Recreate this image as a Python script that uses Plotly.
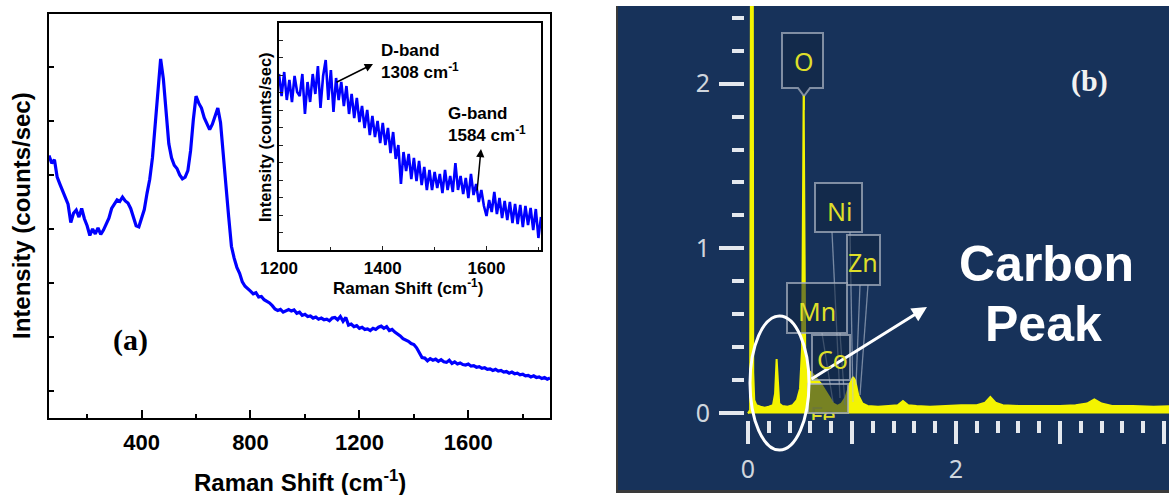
import plotly.graph_objects as go

W, H = 1169, 495

# ---------------- data ----------------
RAMAN_SHIFT = [
    60, 70, 80, 90, 100, 110, 120, 130, 140, 150,
    160, 170, 180, 190, 200, 210, 220, 230, 240, 250,
    260, 270, 280, 290, 300, 310, 320, 330, 340, 350,
    360, 370, 380, 390, 400, 410, 420, 430, 440, 450,
    460, 470, 480, 490, 500, 510, 520, 530, 540, 550,
    560, 570, 580, 590, 600, 610, 620, 630, 640, 650,
    660, 670, 680, 690, 700, 710, 720, 730, 740, 750,
    760, 770, 780, 790, 800, 810, 820, 830, 840, 850,
    860, 870, 880, 890, 900, 910, 920, 930, 940, 950,
    960, 970, 980, 990, 1000, 1010, 1020, 1030, 1040, 1050,
    1060, 1070, 1080, 1090, 1100, 1110, 1120, 1130, 1140, 1150,
    1160, 1170, 1180, 1190, 1200, 1210, 1220, 1230, 1240, 1250,
    1260, 1270, 1280, 1290, 1300, 1310, 1320, 1330, 1340, 1350,
    1360, 1370, 1380, 1390, 1400, 1410, 1420, 1430, 1440, 1450,
    1460, 1470, 1480, 1490, 1500, 1510, 1520, 1530, 1540, 1550,
    1560, 1570, 1580, 1590, 1600, 1610, 1620, 1630, 1640, 1650,
    1660, 1670, 1680, 1690, 1700, 1710, 1720, 1730, 1740, 1750,
    1760, 1770, 1780, 1790, 1800, 1810, 1820, 1830, 1840, 1850,
    1860, 1870, 1880, 1890, 1900,
]
RAMAN_INTENSITY = [
    4860, 4720, 4780, 4460, 4330, 4200, 4080, 3960, 3620, 3790,
    3850, 3720, 3880, 3690, 3560, 3380, 3500, 3410, 3520, 3400,
    3480, 3580, 3700, 3880, 3950, 4040, 4010, 4090, 4020, 3980,
    3880, 3700, 3560, 3540, 3680, 3860, 4160, 4420, 4820, 5380,
    6100, 6650, 6280, 5620, 5080, 4820, 4680, 4620, 4500, 4430,
    4460, 4580, 4950, 5520, 5960, 5830, 5740, 5560, 5430, 5340,
    5440, 5570, 5740, 5470, 4960, 4300, 3720, 3180, 2960, 2790,
    2680, 2520, 2440, 2400, 2350, 2300, 2320, 2240, 2250, 2190,
    2160, 2130, 2080, 2020, 1990, 2010, 1960, 1990, 2010, 1980,
    2000, 1940, 1960, 1900, 1920, 1880, 1890, 1850, 1870, 1830,
    1850, 1820, 1830, 1800, 1850, 1860, 1820, 1880, 1790, 1860,
    1720, 1740, 1690, 1710, 1660, 1680, 1640, 1650, 1620, 1660,
    1640, 1680, 1700, 1660, 1690, 1620, 1640, 1590, 1560, 1520,
    1470, 1450, 1420, 1380, 1360, 1300, 1200, 1120, 1110, 1060,
    1100, 1070, 1090, 1050, 1080, 1040, 1030, 1070, 1010, 1040,
    1000, 1020, 990, 980, 1000, 960, 970, 940, 950, 920,
    930, 900, 910, 880, 900, 870, 880, 850, 860, 830,
    850, 820, 830, 800, 810, 780, 790, 760, 780, 750,
    760, 730, 750, 720, 740,
]

INSET_SHIFT = [
    1200, 1205, 1210, 1215, 1220, 1225, 1230, 1235, 1240, 1245,
    1250, 1255, 1260, 1265, 1270, 1275, 1280, 1285, 1290, 1295,
    1300, 1305, 1310, 1315, 1320, 1325, 1330, 1335, 1340, 1345,
    1350, 1355, 1360, 1365, 1370, 1375, 1380, 1385, 1390, 1395,
    1400, 1405, 1410, 1415, 1420, 1425, 1430, 1435, 1440, 1445,
    1450, 1455, 1460, 1465, 1470, 1475, 1480, 1485, 1490, 1495,
    1500, 1505, 1510, 1515, 1520, 1525, 1530, 1535, 1540, 1545,
    1550, 1555, 1560, 1565, 1570, 1575, 1580, 1585, 1590, 1595,
    1600, 1605, 1610, 1615, 1620, 1625, 1630, 1635, 1640, 1645,
    1650, 1655, 1660, 1665, 1670, 1675, 1680, 1685, 1690, 1695,
    1700, 1705,
]
INSET_INTENSITY = [
    1760, 1540, 1780, 1500, 1700, 1480, 1740, 1580, 1540, 1760,
    1360, 1680, 1480, 1760, 1560, 1840, 1420, 1740, 1900, 1500,
    1800, 1380, 1720, 1500, 1680, 1440, 1640, 1360, 1560, 1320,
    1520, 1280, 1440, 1220, 1400, 1150, 1340, 1130, 1290, 1070,
    1270, 1050, 1220, 970, 1180, 910, 1050, 660, 980, 790,
    960, 710, 920, 690, 890, 650, 830, 600, 800, 600,
    780, 620, 760, 570, 800, 600, 740, 580, 870, 600,
    740, 560, 720, 520, 760, 550, 660, 480, 600, 440,
    340, 500, 380, 580, 360, 520, 320, 490, 300, 480,
    270, 460, 260, 450, 230, 440, 250, 420, 200, 410,
    120, 330,
]

EDS_ENERGY = [0.0, 0.02, 0.028, 0.032, 0.046, 0.05, 0.06, 0.08, 0.12, 0.16,
              0.2, 0.24, 0.26, 0.275, 0.285, 0.3, 0.33, 0.38, 0.43, 0.47,
              0.5, 0.52, 0.535, 0.55, 0.58, 0.62, 0.66, 0.7, 0.74, 0.78,
              0.82, 0.86, 0.9, 0.94, 0.98, 1.01, 1.03, 1.06, 1.1, 1.15,
              1.25, 1.35, 1.44, 1.49, 1.54, 1.62, 1.75, 1.9, 2.05, 2.2,
              2.28, 2.33, 2.38, 2.45, 2.6, 2.8, 3.0, 3.15, 3.26, 3.33,
              3.4, 3.5, 3.7, 3.9, 4.1]
EDS_COUNTS = [0.0, 0.02, 2.6, 2.6, 2.6, 0.25, 0.08, 0.05, 0.04, 0.035,
              0.04, 0.05, 0.12, 0.33, 0.2, 0.06, 0.045, 0.04, 0.05, 0.08,
              0.15, 0.4, 1.93, 0.35, 0.26, 0.24, 0.21, 0.18, 0.14, 0.1,
              0.06, 0.045, 0.06, 0.1, 0.18, 0.22, 0.2, 0.11, 0.06, 0.045,
              0.04, 0.045, 0.05, 0.075, 0.05, 0.045, 0.04, 0.045, 0.05, 0.05,
              0.065, 0.1, 0.065, 0.05, 0.045, 0.045, 0.045, 0.05, 0.06, 0.085,
              0.06, 0.045, 0.045, 0.04, 0.045]

RAMAN_X_TICKS = [400, 800, 1200, 1600]
INSET_X_TICKS = [1200, 1400, 1600]
EDS_X_TICKS = [0, 1, 2, 3, 4]
EDS_X_TICKTEXT = ["0", " ", "2", " ", "4"]
EDS_Y_TICKS = [0, 1, 2]
EDS_Y_TICKTEXT = ["0", "1", "2"]


# ---------------- helpers (pixel -> paper) ----------------
def px(x):
    return x / W


def py(y):
    return 1 - y / H


SANS = "Arial, Liberation Sans, sans-serif"
SERIF = "Times New Roman, Liberation Serif, serif"
EDSFONT = "Noto Sans, Open Sans, sans-serif"
NAVY = "#17325a"
TICKW = "#e4e8ee"
YEL = "#f4f400"
LBLYEL = "#dede2a"

fig = go.Figure()

fig.add_trace(go.Scatter(x=RAMAN_SHIFT, y=RAMAN_INTENSITY, mode="lines",
                         line=dict(color="#0000ff", width=3.2),
                         xaxis="x", yaxis="y", hoverinfo="skip"))
fig.add_trace(go.Scatter(x=INSET_SHIFT, y=INSET_INTENSITY, mode="lines",
                         line=dict(color="#0000ff", width=2.6),
                         xaxis="x2", yaxis="y2", hoverinfo="skip"))
fig.add_trace(go.Scatter(x=EDS_ENERGY, y=EDS_COUNTS, mode="lines",
                         line=dict(color=YEL, width=2), fill="tozeroy",
                         fillcolor=YEL, xaxis="x3", yaxis="y3",
                         hoverinfo="skip", cliponaxis=True))
# partially hidden "Fe" label, clipped at the bottom of the EDS plot area
fig.add_trace(go.Scatter(x=[0.72], y=[-0.025], mode="text", text=["Fe"],
                         textfont=dict(family=EDSFONT, size=24, color=LBLYEL),
                         xaxis="x3", yaxis="y3", cliponaxis=True,
                         hoverinfo="skip"))

common_frame = dict(showgrid=False, zeroline=False, showline=True,
                    linecolor="black", mirror=True, automargin=False)

fig.update_layout(
    width=W, height=H, autosize=False,
    margin=dict(l=0, r=0, t=0, b=0, pad=0, autoexpand=False),
    paper_bgcolor="white", plot_bgcolor="rgba(0,0,0,0)",
    showlegend=False,
    xaxis=dict(domain=[px(49), px(550)], anchor="y", range=[60, 1900],
               tickmode="array", tickvals=RAMAN_X_TICKS,
               ticks="inside", ticklen=8, tickwidth=1.5, tickcolor="black",
               minor=dict(tickmode="linear", tick0=0, dtick=200, ticks="inside",
                          ticklen=4, tickwidth=1.5, tickcolor="black"),
               tickfont=dict(family=SANS, size=22, color="black", weight="bold"),
               ticklabelstandoff=4, linewidth=2, **common_frame),
    yaxis=dict(domain=[py(418), py(14)], anchor="x", range=[0, 7481],
               tick0=500, dtick=1000, ticks="inside", ticklen=5, tickwidth=1.5,
               tickcolor="black", showticklabels=False, linewidth=2,
               **common_frame),
    xaxis2=dict(domain=[px(279), px(541)], anchor="y2", range=[1200, 1705],
                tickmode="array", tickvals=INSET_X_TICKS,
                ticks="inside", ticklen=4, tickwidth=1.2, tickcolor="#222",
                minor=dict(tickmode="linear", tick0=1100, dtick=100,
                           ticks="inside", ticklen=3, tickwidth=1.2,
                           tickcolor="#222"),
                tickfont=dict(family=SANS, size=17, color="black", weight="bold"),
                ticklabelstandoff=2, linewidth=1.5, **common_frame),
    yaxis2=dict(domain=[py(250), py(23)], anchor="x2", range=[0, 2270],
                tick0=175, dtick=175, ticks="inside", ticklen=4, tickwidth=1.2,
                tickcolor="#222", showticklabels=False, linewidth=1.5,
                **common_frame),
    xaxis3=dict(domain=[px(745), 1.0], anchor="y3", range=[-0.029, 4.048],
                showgrid=False, zeroline=False, showline=False, automargin=False,
                tickmode="array", tickvals=EDS_X_TICKS, ticktext=EDS_X_TICKTEXT,
                ticks="outside", ticklen=23, tickwidth=4, tickcolor=TICKW,
                minor=dict(tickmode="linear", tick0=0, dtick=0.2,
                           ticks="outside", ticklen=12, tickwidth=4,
                           tickcolor=TICKW),
                tickfont=dict(family=EDSFONT, size=25, color="#cfd6de"),
                ticklabelstandoff=4),
    yaxis3=dict(domain=[py(420), py(6)], anchor="x3", range=[-0.04, 2.47],
                showgrid=False, zeroline=False, showline=False, automargin=False,
                tickmode="array", tickvals=EDS_Y_TICKS, ticktext=EDS_Y_TICKTEXT,
                ticks="outside", ticklen=25, tickwidth=4, tickcolor=TICKW,
                minor=dict(tickmode="linear", tick0=0, dtick=0.2,
                           ticks="outside", ticklen=12, tickwidth=4,
                           tickcolor=TICKW),
                tickfont=dict(family=EDSFONT, size=25, color="#cfd6de"),
                ticklabelstandoff=4),
)

shapes = []
# EDS panel background and border
shapes.append(dict(type="rect", xref="paper", yref="paper",
                   x0=px(617), x1=1.0, y0=py(491), y1=py(6),
                   fillcolor=NAVY, line=dict(width=0), layer="below"))
shapes.append(dict(type="line", xref="paper", yref="paper",
                   x0=px(617), x1=px(617), y0=py(493), y1=py(6),
                   line=dict(color="#3a3a3a", width=2), layer="above"))
shapes.append(dict(type="line", xref="paper", yref="paper",
                   x0=px(616), x1=1.0, y0=py(491.5), y1=py(491.5),
                   line=dict(color="#3a3a3a", width=3), layer="above"))

# thin leader lines from element boxes
lead = dict(color="rgba(185,195,210,0.6)", width=1.3)
for (x0, y0, x1, y1) in [(832, 232, 840, 398), (850, 232, 853, 402),
                         (860, 285, 856, 385), (868, 285, 860, 395),
                         (822, 333, 833, 402), (840, 333, 845, 405)]:
    shapes.append(dict(type="line", xref="paper", yref="paper",
                       x0=px(x0), y0=py(y0), x1=px(x1), y1=py(y1),
                       line=lead, layer="above"))

box_fill = "rgba(16,36,64,0.55)"
box_line = dict(color="rgba(165,175,190,0.75)", width=2)
# O tag with pointer
o_path = "M {a},{b} L {c},{b} L {c},{d} L {e},{d} L {f},{g} L {h},{d} L {a},{d} Z".format(
    a=px(782), b=py(33), c=px(823), d=py(88), e=px(810), f=px(804), g=py(96), h=px(798))
shapes.append(dict(type="path", xref="paper", yref="paper", path=o_path,
                   fillcolor=box_fill, line=box_line, layer="above"))
for (x0, y0, x1, y1) in [(815, 183, 862, 232), (847, 235, 880, 285),
                         (787, 283, 847, 333), (812, 335, 850, 380),
                         (808, 384, 848, 413)]:
    shapes.append(dict(type="rect", xref="paper", yref="paper",
                       x0=px(x0), y0=py(y1), x1=px(x1), y1=py(y0),
                       fillcolor=box_fill, line=box_line, layer="above"))
# O peak connector
shapes.append(dict(type="line", xref="paper", yref="paper",
                   x0=px(804), x1=px(804), y0=py(96), y1=py(110),
                   line=dict(color=YEL, width=1.5), layer="above"))
# carbon ellipse
shapes.append(dict(type="circle", xref="paper", yref="paper",
                   x0=px(750), x1=px(809), y0=py(450), y1=py(316),
                   line=dict(color="white", width=3), layer="above"))

ann = []


def text(x, y, s, size, family=SANS, color="black", bold=True, angle=0,
         xanchor="center", align="center"):
    ann.append(dict(x=px(x), y=py(y), xref="paper", yref="paper", text=s,
                    showarrow=False, textangle=angle, xanchor=xanchor,
                    yanchor="middle", align=align,
                    font=dict(family=family, size=size, color=color,
                              weight="bold" if bold else "normal")))


def arrow(hx, hy, tx, ty, color, width, head=2, size=1.0):
    ann.append(dict(x=px(hx), y=py(hy), xref="paper", yref="paper", text="",
                    showarrow=True, ax=tx - hx, ay=ty - hy, axref="pixel",
                    ayref="pixel", arrowhead=head, arrowsize=size,
                    arrowwidth=width, arrowcolor=color))


# panel (a)
text(22, 216, "Intensity (counts/sec)", 24, angle=-90)
text(300, 481, "Raman Shift (cm<sup>-1</sup>)", 24)
text(130, 340, "(a)", 30, family=SERIF)
# inset
text(265, 137, "Intensity (counts/sec)", 16.5, angle=-90)
text(408, 287, "Raman Shift (cm<sup>-1</sup>)", 17)
text(379, 61, "D-band<br>1308 cm<sup>-1</sup>", 17, xanchor="left", align="left")
text(446, 124, "G-band<br>1584 cm<sup>-1</sup>", 17, xanchor="left", align="left")
arrow(373, 64, 335, 83, "black", 1.5, head=2, size=1.1)
arrow(481, 149, 477, 192, "black", 1.5, head=2, size=1.1)

# panel (b)
text(1089, 81, "(b)", 30, family=SERIF, color="#f2f2f2")
text(1046, 264, "Carbon", 50, color="white")
text(1043, 324, "Peak", 50, color="white")
arrow(927, 307, 810, 380, "white", 3, head=2, size=1.0)
for (x, y, s) in [(804, 61, "O"), (839, 211, "Ni"), (863, 262, "Zn"),
                  (817, 311, "Mn"), (832, 359, "Co")]:
    text(x, y, s, 25, family=EDSFONT, color=LBLYEL, bold=False)

fig.update_layout(shapes=shapes, annotations=ann)
fig.write_html("out.html")
